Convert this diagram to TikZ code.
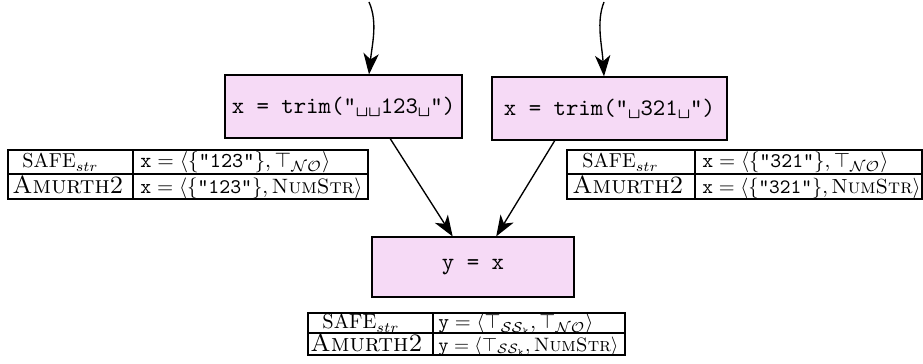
\documentclass[tikz,border=0pt]{standalone}
\usepackage{graphicx}
\usetikzlibrary{arrows.meta,calc}
\definecolor{boxpink}{RGB}{246,218,246}
\newdimen\pxunit
\pxunit=0.444pt
\newcommand{\fitw}[2]{\resizebox{#1\pxunit}{!}{#2}}
\begin{document}
\begin{tikzpicture}[x=0.444pt,y=-0.444pt,
  stmt/.style={draw=black, line width=0.5pt, fill=boxpink, inner sep=0pt,
    font=\fontsize{10.5}{12}\selectfont\ttfamily},
  grid/.style={draw=black, line width=0.5pt},
  flow/.style={-{Stealth[length=9.3pt,width=6.8pt,inset=2.6pt]}, line width=0.6pt},
  cellt/.style={inner sep=0pt, anchor=base west, font=\fontsize{10}{12}\selectfont}
]
\useasboundingbox (0,0) rectangle (923,364);

% statement boxes
\node[stmt, minimum width=105.2pt, minimum height=28pt] (b1) at (343.5,106.5)
  {x = trim("\textvisiblespace\textvisiblespace123\textvisiblespace")};
\node[stmt, minimum width=104.3pt, minimum height=28pt] (b2) at (609.5,108.5)
  {x = trim("\textvisiblespace321\textvisiblespace")};
\node[stmt, minimum width=89.7pt, minimum height=26.6pt] (b3) at (473,267)
  {y = x};

% incoming arrows
\coordinate (s1) at (369,2);
\coordinate (s2) at (604,2);
\draw[flow] (s1) .. controls (378,22) and (372,45) .. (s1 |- b1.north);
\draw[flow] (s2) .. controls (596,22) and (602,45) .. (s2 |- b2.north);

% arrows to y = x
\draw[flow] ($(b1.south west)!0.696!(b1.south east)$) -- ($(b3.north west)!0.40!(b3.north east)$);
\draw[flow] ($(b2.south west)!0.268!(b2.south east)$) -- ($(b3.north west)!0.614!(b3.north east)$);

% left table
\draw[grid] (8,150) rectangle (368,199);
\draw[grid] (8,174) -- (368,174);
\draw[grid] (133,150) -- (133,199);
\node[cellt] (l1) at (22,168) {\fitw{76}{SAFE$_{str}$}};
\node[cellt] (l2) at (12,194) {\fitw{111}{\textsc{Amurth2}}};
\node[cellt] (l3) at (140,168) {\fitw{190}{$\texttt{x} = \langle\{\texttt{"123"}\}, \top_{\mathcal{NO}}\rangle$}};
\node[cellt] (l4) at (140,194) {\fitw{222}{$\texttt{x} = \langle\{\texttt{"123"}\}, \textsc{NumStr}\rangle$}};

% right table
\draw[grid] (567,150) rectangle (922,199);
\draw[grid] (567,174) -- (922,174);
\draw[grid] (695,150) -- (695,199);
\node[cellt] (r1) at (582,168) {\fitw{76}{SAFE$_{str}$}};
\node[cellt] (r2) at (572,194) {\fitw{111}{\textsc{Amurth2}}};
\node[cellt] (r3) at (702,168) {\fitw{186}{$\texttt{x} = \langle\{\texttt{"321"}\}, \top_{\mathcal{NO}}\rangle$}};
\node[cellt] (r4) at (702,194) {\fitw{218}{$\texttt{x} = \langle\{\texttt{"321"}\}, \textsc{NumStr}\rangle$}};

% bottom table
\draw[grid] (308,313) rectangle (625,355);
\draw[grid] (308,333) -- (625,333);
\draw[grid] (433,313) -- (433,355);
\node[cellt] (c1) at (322,329) {\fitw{77}{SAFE$_{str}$}};
\node[cellt] (c2) at (310,351) {\fitw{112}{\textsc{Amurth2}}};
\node[cellt] (c3) at (438,329) {\fitw{155}{$\texttt{y} = \langle\top_{\mathcal{SS}_{\mathtt{k}}}, \top_{\mathcal{NO}}\rangle$}};
\node[cellt] (c4) at (438,351) {\fitw{180}{$\texttt{y} = \langle\top_{\mathcal{SS}_{\mathtt{k}}}, \textsc{NumStr}\rangle$}};
\end{tikzpicture}
\end{document}
